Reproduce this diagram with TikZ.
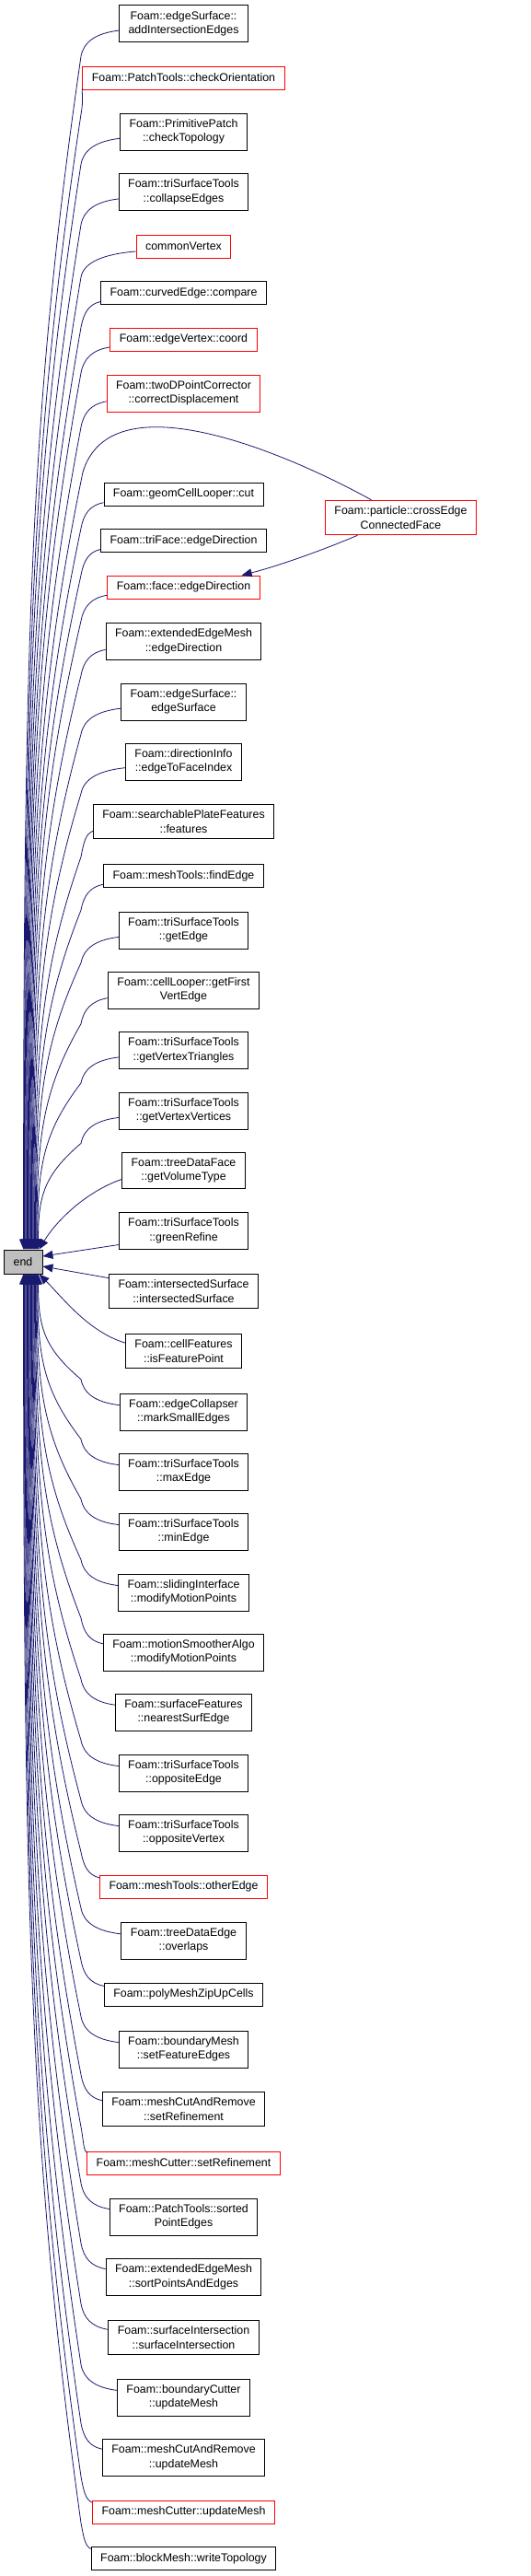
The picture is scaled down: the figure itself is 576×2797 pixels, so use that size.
\documentclass[tikz,border=0pt]{standalone}
\usepackage{fontspec}
\setmainfont{Liberation Sans}
\usetikzlibrary{arrows.meta,calc}
\definecolor{edgeblue}{HTML}{191970}
\definecolor{endgrey}{HTML}{BFBFBF}
\tikzset{
  box/.style={draw=black, fill=white, line width=0.9pt, align=center,
    inner xsep=10pt, inner ysep=6.5pt, minimum height=25pt,
    font=\fontsize{12.4pt}{15.5pt}\selectfont},
  redbox/.style={box, draw=red},
  edge/.style={draw=edgeblue, line width=0.8pt, -{Triangle[length=11pt,width=9pt]}},
}
\newcommand\callup[3]{%
  \draw[edge] let \p1=(#1.#2), \p2=(88pt,{\y1-28pt}), \p3=($(endn.north west)+(#3,0)$),
    \p4=($(\p2)!0.3!(\p3)$), \p5=($(\p3)!0.5!(\p2)$) in
    (\p1) .. controls ({0.4*\x1+0.6*\x2},{\y1-3pt}) and ({\x2+3pt},{\y2+16pt}) .. (\p2)
    .. controls ({\x3+6pt},\y4) and (\x3,\y5) .. (\p3);}
\newcommand\calldown[3]{%
  \draw[edge] let \p1=(#1.#2), \p2=(88pt,{\y1+28pt}), \p3=($(endn.south west)+(#3,0)$),
    \p4=($(\p2)!0.3!(\p3)$), \p5=($(\p3)!0.5!(\p2)$) in
    (\p1) .. controls ({0.4*\x1+0.6*\x2},{\y1+3pt}) and ({\x2+3pt},{\y2-16pt}) .. (\p2)
    .. controls ({\x3+6pt},\y4) and (\x3,\y5) .. (\p3);}
\begin{document}
\begin{tikzpicture}[x=1pt,y=1pt]
\useasboundingbox (0,0) rectangle (576,-2797);
% nodes
\node[box, fill=endgrey, minimum width=42pt, minimum height=26pt, inner sep=0pt] (endn) at (25,-1370) {end};
\node[box]    (n1)  at (199.5,-25.7)  {Foam::edgeSurface::\\addIntersectionEdges};
\node[redbox] (n2)  at (199.5,-84.5)  {Foam::PatchTools::checkOrientation};
\node[box]    (n3)  at (199.5,-143)   {Foam::PrimitivePatch\\::checkTopology};
\node[box]    (n4)  at (199.5,-208.5) {Foam::triSurfaceTools\\::collapseEdges};
\node[redbox] (n5)  at (199.5,-267.5) {commonVertex};
\node[box]    (n6)  at (199.5,-318)   {Foam::curvedEdge::compare};
\node[redbox] (n7)  at (199.5,-368.5) {Foam::edgeVertex::coord};
\node[redbox] (n8)  at (199.5,-427)   {Foam::twoDPointCorrector\\::correctDisplacement};
\node[box]    (n9)  at (199.5,-536.5) {Foam::geomCellLooper::cut};
\node[redbox] (n10) at (435.5,-562)   {Foam::particle::crossEdge\\ConnectedFace};
\node[box]    (n11) at (199.5,-587)   {Foam::triFace::edgeDirection};
\node[redbox] (n12) at (199.5,-637.5) {Foam::face::edgeDirection};
\node[box]    (n13) at (199.5,-696.5) {Foam::extendedEdgeMesh\\::edgeDirection};
\node[box]    (n14) at (199.5,-762)   {Foam::edgeSurface::\\edgeSurface};
\node[box]    (n15) at (199.5,-827)   {Foam::directionInfo\\::edgeToFaceIndex};
\node[box]    (n16) at (199.5,-892)   {Foam::searchablePlateFeatures\\::features};
\node[box]    (n17) at (199.5,-951)   {Foam::meshTools::findEdge};
\node[box]    (n18) at (199.5,-1010)  {Foam::triSurfaceTools\\::getEdge};
\node[box]    (n19) at (199.5,-1075)  {Foam::cellLooper::getFirst\\VertEdge};
\node[box]    (n20) at (199.5,-1140.5){Foam::triSurfaceTools\\::getVertexTriangles};
\node[box]    (n21) at (199.5,-1206)  {Foam::triSurfaceTools\\::getVertexVertices};
\node[box]    (n22) at (199.5,-1271)  {Foam::treeDataFace\\::getVolumeType};
\node[box]    (n23) at (199.5,-1336.5){Foam::triSurfaceTools\\::greenRefine};
\node[box]    (n24) at (199.5,-1402)  {Foam::intersectedSurface\\::intersectedSurface};
\node[box]    (n25) at (199.5,-1467)  {Foam::cellFeatures\\::isFeaturePoint};
\node[box]    (n26) at (199.5,-1533)  {Foam::edgeCollapser\\::markSmallEdges};
\node[box]    (n27) at (199.5,-1598)  {Foam::triSurfaceTools\\::maxEdge};
\node[box]    (n28) at (199.5,-1663)  {Foam::triSurfaceTools\\::minEdge};
\node[box]    (n29) at (199.5,-1729)  {Foam::slidingInterface\\::modifyMotionPoints};
\node[box]    (n30) at (199.5,-1794)  {Foam::motionSmootherAlgo\\::modifyMotionPoints};
\node[box]    (n31) at (199.5,-1859)  {Foam::surfaceFeatures\\::nearestSurfEdge};
\node[box]    (n32) at (199.5,-1925)  {Foam::triSurfaceTools\\::oppositeEdge};
\node[box]    (n33) at (199.5,-1990)  {Foam::triSurfaceTools\\::oppositeVertex};
\node[redbox] (n34) at (199.5,-2048.5){Foam::meshTools::otherEdge};
\node[box]    (n35) at (199.5,-2107)  {Foam::treeDataEdge\\::overlaps};
\node[box]    (n36) at (199.5,-2165.5){Foam::polyMeshZipUpCells};
\node[box]    (n37) at (199.5,-2225)  {Foam::boundaryMesh\\::setFeatureEdges};
\node[box]    (n38) at (199.5,-2290)  {Foam::meshCutAndRemove\\::setRefinement};
\node[redbox] (n39) at (199.5,-2348.5){Foam::meshCutter::setRefinement};
\node[box]    (n40) at (199.5,-2407)  {Foam::PatchTools::sorted\\PointEdges};
\node[box]    (n41) at (199.5,-2472.5){Foam::extendedEdgeMesh\\::sortPointsAndEdges};
\node[box]    (n42) at (199.5,-2538)  {Foam::surfaceIntersection\\::surfaceIntersection};
\node[box]    (n43) at (199.5,-2603)  {Foam::boundaryCutter\\::updateMesh};
\node[box]    (n44) at (199.5,-2668.5){Foam::meshCutAndRemove\\::updateMesh};
\node[redbox] (n45) at (199.5,-2727.5){Foam::meshCutter::updateMesh};
\node[box]    (n46) at (199.5,-2778)  {Foam::blockMesh::writeTopology};
% edges from nodes above
\callup{n1}{186}{22}
\callup{n2}{186}{22.8}
\callup{n3}{186}{23.6}
\callup{n4}{186}{24.4}
\callup{n5}{186}{25.2}
\callup{n6}{186}{26}
\callup{n7}{186}{26.8}
\callup{n8}{186}{27.6}
\draw[edge] let \p1=($(n10.north)+(-32,0)$), \p2=($(n10.north)+(-345.5,30)$),
    \p3=($(endn.north west)+(28.4,0)$), \p4=($(\p2)!0.3!(\p3)$), \p5=($(\p3)!0.5!(\p2)$) in
    (\p1) .. controls +(-100,55) and +(30,100) .. (\p2)
    .. controls ({\x3+6pt},\y4) and (\x3,\y5) .. (\p3);
\callup{n9}{186}{29.2}
\callup{n11}{186}{30}
\callup{n12}{186}{30.8}
\callup{n13}{186}{31.6}
\callup{n14}{186}{32.4}
\callup{n15}{186}{33.2}
\callup{n16}{186}{34}
\callup{n17}{186}{34.8}
\callup{n18}{186}{35.6}
\callup{n19}{186}{36.4}
\callup{n20}{186}{37.2}
\callup{n21}{186}{38}
\draw[edge] (n22.188) .. controls +(-40,-14) and +(18,30) .. ($(endn.north west)+(39,0)$);
\draw[edge] (n23.192) -- ($(endn.east)+(0,6)$);
\draw[edge] (n24.170) -- ($(endn.east)+(0,-5)$);
\draw[edge] (n25.172) .. controls +(-40,12) and +(25,-25) .. ($(endn.south west)+(39,0)$);
% edges from nodes below
\calldown{n26}{174}{38}
\calldown{n27}{174}{37.2}
\calldown{n28}{174}{36.4}
\calldown{n29}{174}{35.6}
\calldown{n30}{174}{34.8}
\calldown{n31}{174}{34}
\calldown{n32}{174}{33.2}
\calldown{n33}{174}{32.4}
\calldown{n34}{174}{31.6}
\calldown{n35}{174}{30.8}
\calldown{n36}{174}{30}
\calldown{n37}{174}{29.2}
\calldown{n38}{174}{28.4}
\calldown{n39}{174}{27.6}
\calldown{n40}{174}{26.8}
\calldown{n41}{174}{26}
\calldown{n42}{174}{25.2}
\calldown{n43}{174}{24.4}
\calldown{n44}{174}{23.6}
\calldown{n45}{174}{22.8}
\calldown{n46}{174}{22}
% cross edge to face::edgeDirection
\draw[edge] ($(n10.south)+(-47,0)$) .. controls +(-35,-15) and +(40,10) .. ($(n12.north east)+(-20,0)$);
\end{tikzpicture}
\end{document}
